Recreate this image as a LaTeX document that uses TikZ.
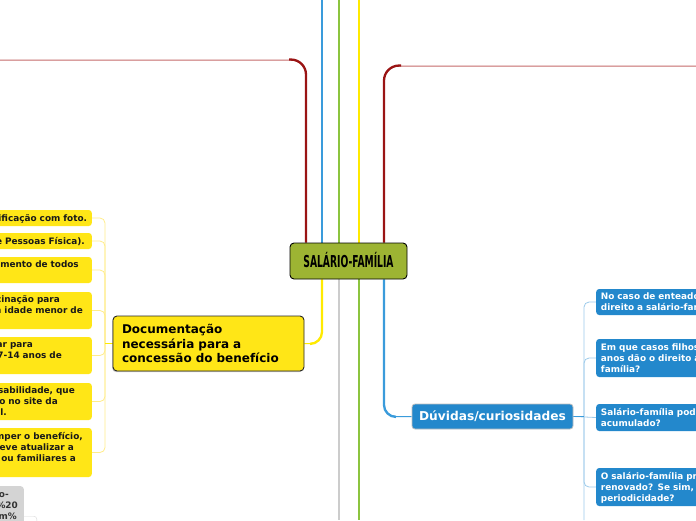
\documentclass[tikz,border=0pt]{standalone}
\usepackage{fontspec}
\setmainfont{DejaVu Sans}
\usepackage{graphicx}
\usetikzlibrary{backgrounds,shadows}
\definecolor{cgreenfill}{HTML}{9DB433}
\definecolor{yfill}{HTML}{FFE617}
\definecolor{bfill}{HTML}{2388CC}
\definecolor{gfill}{HTML}{D4D4D4}
\definecolor{lred}{HTML}{9A1414}
\definecolor{lredthin}{HTML}{C46A6A}
\definecolor{lblue}{HTML}{3A9BDB}
\definecolor{lgreen}{HTML}{8CC43F}
\definecolor{lyellow}{HTML}{FFEA00}
\definecolor{lgrey}{HTML}{CCCCCC}
\definecolor{lbthin}{HTML}{9CCAEA}
\definecolor{lythin}{HTML}{FFEC8A}
\newcommand\lstr{\rule[-2.5pt]{0pt}{11pt}}
\newcommand\gap[1]{\rule{#1pt}{0pt}}
\begin{document}
\begin{tikzpicture}[x=1pt,y=-1pt,
  centralbox/.style={fill=cgreenfill,draw=black,line width=0.9pt,rounded corners=4pt,
    minimum width=117pt,minimum height=36pt,inner sep=0pt,text height=12pt,text depth=0pt},
  docbox/.style={fill=yfill,draw=black!85,line width=0.9pt,rounded corners=4pt,
    text width=173pt,inner xsep=9pt,minimum width=191pt,minimum height=55pt,align=left,
    font=\fontsize{12}{14.5}\selectfont\bfseries,
    drop shadow={shadow xshift=-0.8pt,shadow yshift=-1.2pt,opacity=0.45}},
  duvbox/.style={fill=bfill,draw=black!25,line width=0.8pt,rounded corners=3pt,text=white,
    font=\fontsize{12.2}{14}\selectfont\bfseries,minimum width=161pt,minimum height=25pt,inner xsep=0pt},
  yleaf/.style={fill=yfill,rounded corners=3pt,anchor=east,text width=200pt,inner xsep=0pt,inner ysep=0pt,
    align=right,font=\fontsize{8.9}{11}\selectfont\bfseries,text=black!90},
  bleaf/.style={fill=bfill,rounded corners=3pt,anchor=west,text width=150pt,inner xsep=4.7pt,inner ysep=0pt,
    align=left,font=\fontsize{8.9}{11}\selectfont\bfseries,text=white},
  gleaf/.style={fill=gfill,rounded corners=3pt,anchor=north east,text width=80pt,inner xsep=0pt,inner ysep=3pt,
    align=right,font=\fontsize{8.9}{11}\selectfont\bfseries,text=black!80,minimum height=50pt},
  lnmain/.style={line width=2.3pt},
  lnthin/.style={line width=0.8pt},
]
\useasboundingbox (0,0) rectangle (696,520);
\clip (0,0) rectangle (696,520);

% nodes
\node[centralbox] (central) at (348.5,261) {\scalebox{0.56}[1]{\fontsize{16.4}{18}\selectfont\bfseries SALÁRIO-FAMÍLIA}};
\node[docbox] (doc) at (208.5,343.5) {Documentação\\necessária para a\\concessão do benefício};
\node[duvbox] (duv) at (492.5,416.5) {Dúvidas/curiosidades};

\node[yleaf,minimum height=16pt] (y1) at (92,218) {\lstr identificação com foto.\gap{4.7}};
\node[yleaf,minimum height=16pt] (y2) at (92,241) {\lstr de Pessoas Física).\gap{7}};
\node[yleaf,minimum height=26pt] (y3) at (92,270) {\lstr nascimento de todos\gap{13}\\\lstr};
\node[yleaf,minimum height=37pt] (y4) at (92,310.5) {\lstr vacinação para\gap{32}\\\lstr com idade menor de\gap{9}\\\lstr};
\node[yleaf,minimum height=37pt] (y5) at (92,355.5) {\lstr escolar para\gap{59}\\\lstr de 7-14 anos de\gap{30}\\\lstr};
\node[yleaf,minimum height=37pt] (y6) at (92,401.5) {\lstr responsabilidade, que\gap{17}\\\lstr encontrado no site da\gap{34}\\\lstr Social.\gap{85}};
\node[yleaf,minimum height=49pt] (y7) at (92,452.5) {\lstr romper o benefício,\gap{9}\\\lstr deve atualizar a\gap{18}\\\lstr dependentes ou familiares a\gap{16}\\\lstr};

\node[draw=black!15,fill=white,rounded corners=3pt,minimum width=60pt,minimum height=20pt,anchor=north east] (w1) at (37,516) {};
\node[gleaf] (g1) at (24,486) {\lstr salario-\gap{15}\\\lstr familia\%20\gap{6}\\\lstr com\%\gap{7}\\\lstr};

\node[bleaf,minimum height=26pt] (b1) at (596,302) {\lstr No caso de enteado\\\lstr direito a salário-fam};
\node[bleaf,minimum height=38pt] (b2) at (596,358) {\lstr Em que casos filhos\\\lstr anos dão o direito a\\\lstr família?};
\node[bleaf,minimum height=27pt] (b3) at (596,417.5) {\lstr Salário-família pod\\\lstr acumulado?};
\node[bleaf,minimum height=38pt] (b4) at (596,487) {\lstr O salário-família pr\\\lstr renovado? Se sim,\\\lstr periodicidade?};

% coordinates
\coordinate (tl) at (0,60);
\coordinate (tr) at (696,66);
\coordinate (bot) at (0,520);
\coordinate (xa) at (306,0);
\coordinate (xb) at (322,0);
\coordinate (xc) at (339,0);
\coordinate (xd) at (359,0);
\coordinate (xe) at (384,0);
\coordinate (lv) at (105,0);
\coordinate (rv) at (584,0);

\begin{scope}[on background layer]
% lines above the central node
\draw[lnmain,lblue] (xb) -- (central.north -| xb);
\draw[lnmain,lgreen] (xc) -- (central.north -| xc);
\draw[lnmain,lyellow] (xd) -- (central.north -| xd);
\draw[line width=1pt,lredthin,rounded corners=15pt] (central.north -| xa) |- (tl);
\draw[lnmain,lred,rounded corners=15pt] (central.north -| xa) |- ++(-17,-183);
\draw[line width=1pt,lredthin,rounded corners=15pt] (central.north -| xe) |- (tr);
\draw[lnmain,lred,rounded corners=15pt] (central.north -| xe) |- ++(17,-177);
% lines below the central node
\draw[line width=1pt,lyellow,rounded corners=12pt] (central.south -| xb) |- (doc.east);
\draw[lnmain,lyellow,rounded corners=12pt] (central.south -| xb) |- ++(-12,64.5);
\draw[lnmain,lgrey] (central.south -| xc) -- (xc |- bot);
\draw[lnmain,lgreen] (central.south -| xd) -- (xd |- bot);
\draw[line width=1pt,lblue,rounded corners=12pt] (central.south -| xe) |- (duv.west);
\draw[lnmain,lblue,rounded corners=12pt] (central.south -| xe) |- ++(12,137.5);
% left subtree
\foreach \n in {y1,y2,y3,y4,y5,y6,y7}
  \draw[lnthin,lythin,rounded corners=5pt] (\n.east) -| (lv |- doc.west);
\draw[line width=1.6pt,lyellow] (doc.west) -- (lv |- doc.west);
% right subtree
\draw[lnthin,lbthin,rounded corners=5pt] (b1.west) -| (rv |- bot);
\draw[lnthin,lbthin,rounded corners=5pt] (b2.west) -| (rv |- duv.east);
\draw[lnthin,lbthin,rounded corners=5pt] (b4.west) -| (rv |- duv.east);
\draw[lnthin,lbthin] (duv.east) -- (b3.west);
\draw[line width=1.6pt,lblue] (duv.east) -- (rv |- duv.east);
\end{scope}
\end{tikzpicture}
\end{document}
